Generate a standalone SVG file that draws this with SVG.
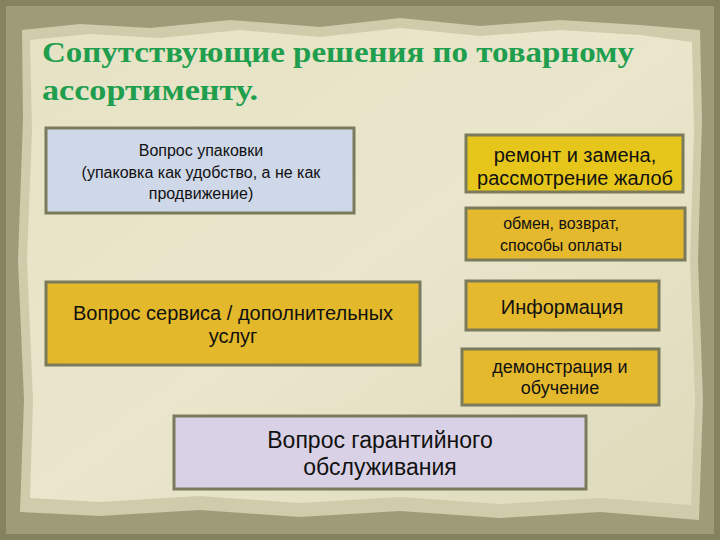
<svg xmlns="http://www.w3.org/2000/svg" width="720" height="540" viewBox="0 0 720 540">
<defs>
<style>
.box{stroke:#7b7b5c;stroke-width:3}
.t{font-family:"Liberation Sans",Arial,sans-serif;fill:#111;text-anchor:middle}
.title{font-family:"Liberation Serif","Times New Roman",serif;font-weight:bold;fill:#1f9e4e;font-size:30px}
</style>
<linearGradient id="paper" x1="0" y1="0" x2="1" y2="1">
<stop offset="0" stop-color="#e6e2c4"/>
<stop offset="0.5" stop-color="#e9e6cc"/>
<stop offset="1" stop-color="#dedabb"/>
</linearGradient>
</defs>
<rect x="0" y="0" width="720" height="540" fill="#85835f"/>
<rect x="6" y="6" width="708" height="528" fill="#9e9c78"/>
<path d="M22,30 L80,24 L150,28 L230,20 L320,27 L400,18 L480,26 L560,20 L640,25 L700,30 L702,120 L698,260 L703,400 L699,520 L600,512 L500,518 L400,511 L300,517 L200,510 L100,516 L20,512 L24,400 L18,260 L23,120 Z" fill="#cfcbab"/>
<path d="M30,40 L90,34 L160,38 L240,30 L320,37 L400,28 L480,36 L560,30 L640,35 L692,42 L694,130 L690,260 L695,400 L691,505 L600,498 L500,504 L400,497 L300,503 L200,496 L100,502 L30,498 L33,400 L27,260 L32,130 Z" fill="url(#paper)"/>
<text class="title" x="42" y="62" textLength="592" lengthAdjust="spacingAndGlyphs">Сопутствующие решения по товарному</text>
<text class="title" x="42" y="100" textLength="216" lengthAdjust="spacingAndGlyphs">ассортименту.</text>
<g id="connectors"/>
<g id="packaging">
<rect class="box" x="46" y="128" width="308" height="85" fill="#cfd8e8"/>
<text class="t" x="201" y="156" font-size="16">Вопрос упаковки</text>
<text class="t" x="201" y="178" font-size="16">(упаковка как удобство, а не как</text>
<text class="t" x="201" y="199" font-size="16">продвижение)</text>
</g>
<g id="repair">
<rect class="box" x="466" y="135" width="217" height="57" fill="#e7c61c"/>
<text class="t" x="575" y="162" font-size="20">ремонт и замена,</text>
<text class="t" x="575" y="185" font-size="20">рассмотрение жалоб</text>
</g>
<g id="exchange">
<rect class="box" x="466" y="208" width="219" height="52" fill="#e5b92e"/>
<text class="t" x="561" y="229" font-size="16">обмен, возврат,</text>
<text class="t" x="561" y="251" font-size="16">способы оплаты</text>
</g>
<g id="service">
<rect class="box" x="46" y="282" width="374" height="83" fill="#e3b82a"/>
<text class="t" x="233" y="320" font-size="20">Вопрос сервиса / дополнительных</text>
<text class="t" x="233" y="343" font-size="20">услуг</text>
</g>
<g id="info">
<rect class="box" x="466" y="281" width="193" height="49" fill="#e5b92e"/>
<text class="t" x="562" y="314" font-size="20">Информация</text>
</g>
<g id="demo">
<rect class="box" x="462" y="349" width="197" height="56" fill="#e5b92e"/>
<text class="t" x="560" y="373" font-size="18">демонстрация и</text>
<text class="t" x="560" y="394" font-size="18">обучение</text>
</g>
<g id="warranty">
<rect class="box" x="174" y="416" width="412" height="73" fill="#d9d1e5"/>
<text class="t" x="380" y="448" font-size="23">Вопрос гарантийного</text>
<text class="t" x="380" y="475" font-size="23">обслуживания</text>
</g>
</svg>
